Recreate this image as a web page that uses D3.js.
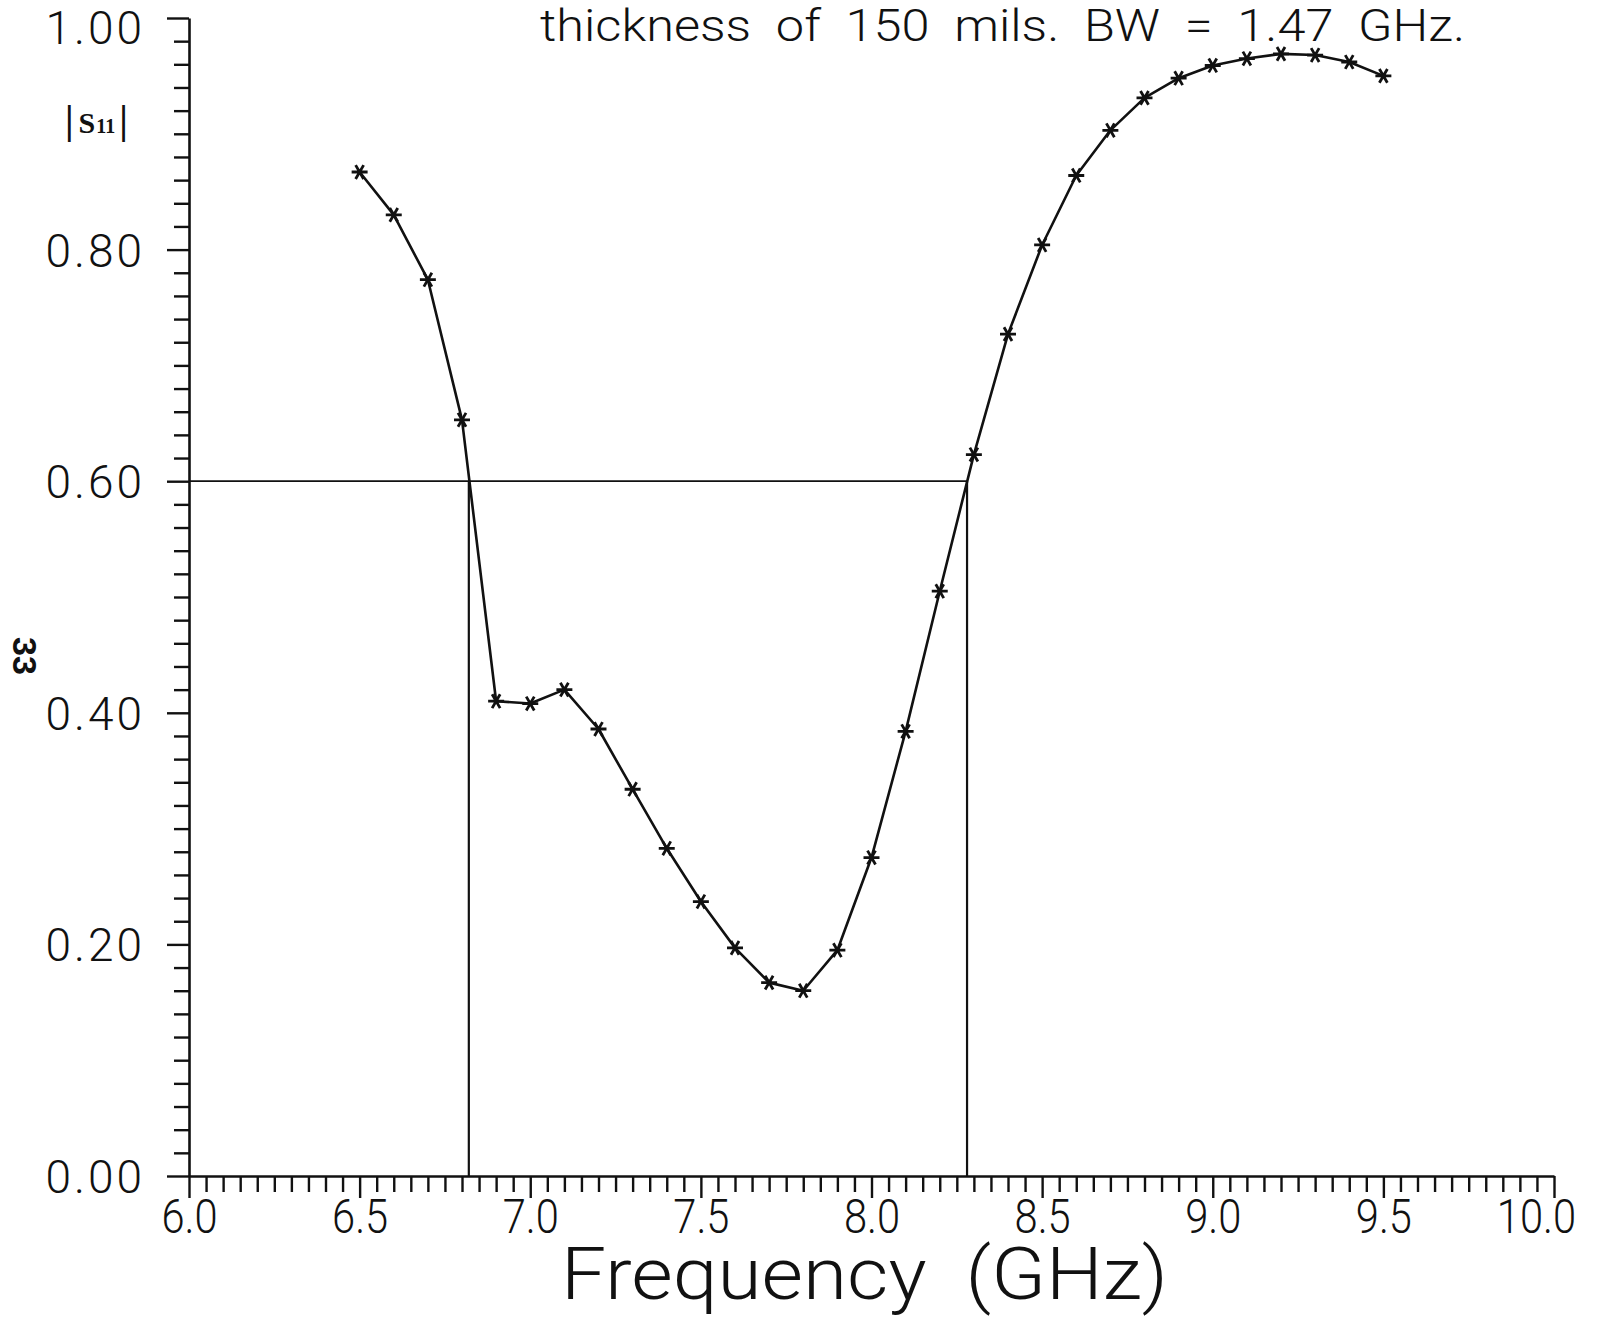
<!DOCTYPE html>
<html>
<head>
<meta charset="utf-8">
<script src="https://cdn.jsdelivr.net/npm/d3@7"></script>
<style>
  html, body { margin: 0; padding: 0; background: #fff; }
  svg { display: block; }
</style>
</head>
<body>
<svg id="chart" width="1604" height="1318"></svg>
<script>
// ---- data ----
const freqGHz = [6.5, 6.6, 6.7, 6.8, 6.9, 7.0, 7.1, 7.2, 7.3, 7.4, 7.5, 7.6, 7.7, 7.8, 7.9, 8.0,
                 8.1, 8.2, 8.3, 8.4, 8.5, 8.6, 8.7, 8.8, 8.9, 9.0, 9.1, 9.2, 9.3, 9.4, 9.5];
const s11Mag  = [0.867, 0.830, 0.774, 0.653, 0.410, 0.408, 0.420, 0.386, 0.334, 0.283, 0.237, 0.197, 0.167, 0.160, 0.195, 0.275,
                 0.384, 0.505, 0.623, 0.727, 0.804, 0.864, 0.903, 0.931, 0.948, 0.959, 0.965, 0.969, 0.968, 0.962, 0.950];
const levelLine = 0.60;
const bandEdges = [6.82, 8.28];
const xTickValues = [6.0, 6.5, 7.0, 7.5, 8.0, 8.5, 9.0, 9.5, 10.0];
const xTickLabels = ["6.0", "6.5", "7.0", "7.5", "8.0", "8.5", "9.0", "9.5", "10.0"];
const yTickValues = [0.0, 0.2, 0.4, 0.6, 0.8, 1.0];
const yTickLabels = ["0.00", "0.20", "0.40", "0.60", "0.80", "1.00"];
const titleText = "thickness  of  150  mils.  BW  =  1.47  GHz.";
const xLabelText = "Frequency  (GHz)";
const yLabelMain = "S";
const yLabelSub = "11";
const pageNumber = "33";

// ---- layout ----
const svg = d3.select("#chart");
const X0 = 189, X1 = 1554, Y0 = 1176, Y1 = 18;
const x = d3.scaleLinear().domain([6, 10]).range([X0, X1]);
const y = d3.scaleLinear().domain([0, 1]).range([Y0, Y1]);
const ink = "#111";
const FONT = "Roboto, 'Liberation Sans', sans-serif";
const SXX = 0.85; // horizontal squeeze for x tick labels

const xMinor = d3.range(0, 81).map(i => 6 + i * 0.05).filter(v => Math.abs((v * 2) - Math.round(v * 2)) > 1e-6);
const yMinor = d3.range(0, 51).map(i => i * 0.02).filter(v => Math.abs((v * 5) - Math.round(v * 5)) > 1e-6);

// minor ticks
svg.append("g").attr("transform", `translate(0,${Y0})`)
  .call(d3.axisBottom(x).tickValues(xMinor).tickSize(16).tickSizeOuter(0).tickFormat(""))
  .call(g => g.select(".domain").remove());
svg.append("g").attr("transform", `translate(${X0},0)`)
  .call(d3.axisLeft(y).tickValues(yMinor).tickSize(15).tickSizeOuter(0).tickFormat(""))
  .call(g => g.select(".domain").remove());

// major ticks + labels
const gx = svg.append("g").attr("transform", `translate(0,${Y0})`)
  .call(d3.axisBottom(x).tickValues(xTickValues).tickSize(22).tickPadding(0).tickSizeOuter(0)
        .tickFormat((d, i) => xTickLabels[i]));
const gy = svg.append("g").attr("transform", `translate(${X0},0)`)
  .call(d3.axisLeft(y).tickValues(yTickValues).tickSize(22).tickPadding(22).tickSizeOuter(0)
        .tickFormat((d, i) => yTickLabels[i]));

svg.selectAll(".tick line").attr("stroke", ink).attr("stroke-width", 2.4);
svg.selectAll(".domain").attr("stroke", ink).attr("stroke-width", 2.6);

gx.selectAll(".tick text")
  .attr("font-family", FONT).attr("font-weight", 300).attr("font-size", 49)
  .attr("fill", ink)
  .attr("x", (d, i) => (i === xTickValues.length - 1 ? -18 : 0) / SXX)
  .attr("transform", `scale(${SXX},1)`);
gy.selectAll(".tick text")
  .attr("font-family", FONT).attr("font-weight", 300).attr("font-size", 46)
  .attr("fill", ink).attr("letter-spacing", 3)
  .attr("dy", (d, i) => i === yTickValues.length - 1 ? "25px" : "0.36em");

// level line and band edges
svg.append("line")
  .attr("x1", x(6)).attr("x2", x(bandEdges[1]))
  .attr("y1", y(levelLine)).attr("y2", y(levelLine))
  .attr("stroke", ink).attr("stroke-width", 1.8);
svg.selectAll(".edge").data(bandEdges).join("line")
  .attr("class", "edge")
  .attr("x1", d => x(d)).attr("x2", d => x(d))
  .attr("y1", y(levelLine)).attr("y2", y(0))
  .attr("stroke", ink).attr("stroke-width", 2.2);

// curve
const pts = freqGHz.map((f, i) => [f, s11Mag[i]]);
svg.append("path").datum(pts)
  .attr("fill", "none").attr("stroke", ink).attr("stroke-width", 2.6)
  .attr("stroke-linejoin", "round")
  .attr("d", d3.line().x(d => x(d[0])).y(d => y(d[1])));

const sym = d3.symbol().type(d3.symbolAsterisk).size(180);
svg.selectAll(".mk").data(pts).join("path")
  .attr("class", "mk")
  .attr("transform", d => `translate(${x(d[0])},${y(d[1])}) rotate(90)`)
  .attr("d", sym)
  .attr("fill", "none").attr("stroke", ink).attr("stroke-width", 2.8);

// texts
svg.append("text")
  .attr("x", 540).attr("y", 41)
  .attr("font-family", FONT).attr("font-weight", 300).attr("font-size", 44)
  .attr("fill", ink).attr("textLength", 925).attr("lengthAdjust", "spacingAndGlyphs")
  .style("white-space", "pre")
  .text(titleText);

svg.append("text")
  .attr("x", 561).attr("y", 1299)
  .attr("font-family", FONT).attr("font-weight", 300).attr("font-size", 72)
  .attr("fill", ink).attr("textLength", 607).attr("lengthAdjust", "spacingAndGlyphs")
  .style("white-space", "pre")
  .text(xLabelText);

// |S11| axis name
const yl = svg.append("text")
  .attr("x", 65).attr("y", 133)
  .attr("font-family", "'Liberation Serif', 'DejaVu Serif', serif").attr("font-weight", "bold")
  .attr("fill", ink);
yl.append("tspan").attr("font-size", 39).text("|");
yl.append("tspan").attr("font-size", 30).attr("dx", 5).text(yLabelMain);
yl.append("tspan").attr("font-size", 20).attr("dx", 1).text(yLabelSub);
yl.append("tspan").attr("font-size", 39).attr("dx", 4).text("|");

svg.append("text")
  .attr("transform", "translate(13,656) rotate(90)")
  .attr("text-anchor", "middle")
  .attr("font-family", "'Liberation Sans', 'DejaVu Sans', sans-serif").attr("font-weight", "bold")
  .attr("font-size", 34).attr("fill", ink)
  .text(pageNumber);
</script>
</body>
</html>
